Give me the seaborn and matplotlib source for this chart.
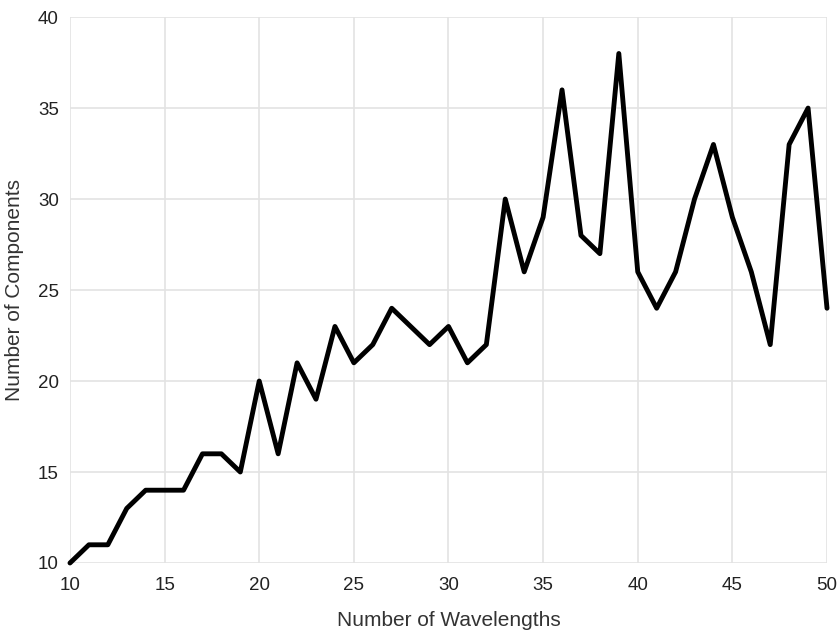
import matplotlib
matplotlib.use("Agg")
import matplotlib.pyplot as plt
import pandas as pd
import seaborn as sns

# values
wavelengths = list(range(10, 51))
components = [10, 11, 11, 13, 14, 14, 14, 16, 16, 15,
              20, 16, 21, 19, 23, 21, 22, 24, 23, 22,
              23, 21, 22, 30, 26, 29, 36, 28, 27, 38,
              26, 24, 26, 30, 33, 29, 26, 22, 33, 35,
              24]
x_ticks = [10, 15, 20, 25, 30, 35, 40, 45, 50]
y_ticks = [10, 15, 20, 25, 30, 35, 40]

df = pd.DataFrame({"wl": wavelengths, "comp": components})

sns.set_style("whitegrid")
plt.rcParams['font.family'] = ['Liberation Sans', 'DejaVu Sans']

fig = plt.figure(figsize=(8.39, 6.33), dpi=100)
ax = fig.add_axes([0.0834, 0.1106, 0.9023, 0.8624])

sns.lineplot(data=df, x="wl", y="comp", ax=ax, color="black", linewidth=3.5, clip_on=False)

ax.set_xlim(10, 50)
ax.set_ylim(10, 40)
ax.set_xticks(x_ticks)
ax.set_yticks(y_ticks)
ax.grid(True, color="#e3e3e3", linewidth=1.2)
for s in ax.spines.values():
    s.set_visible(False)
ax.tick_params(axis="x", length=0, labelsize=13.5, labelcolor="#222222", pad=10)
ax.tick_params(axis="y", length=0, labelsize=13.5, labelcolor="#222222", pad=8)
ax.set_xlabel("Number of Wavelengths", fontsize=15, color="#333333", labelpad=12)
ax.set_ylabel("Number of Components", fontsize=15, color="#333333", labelpad=10)

fig.savefig("out.png", dpi=100)
